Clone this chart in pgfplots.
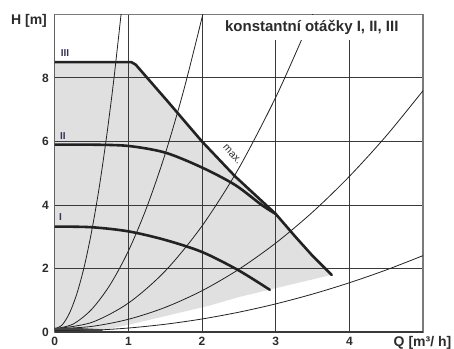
\documentclass[border=0pt]{standalone}
\usepackage{fontspec}
\setmainfont{Liberation Sans}
\usepackage{pgfplots}
\pgfplotsset{compat=1.18}
\definecolor{txt}{HTML}{2B2B2B}
\definecolor{gridc}{HTML}{3A3A3A}
\definecolor{framec}{HTML}{7A7A7A}
\definecolor{curvec}{HTML}{222222}
\definecolor{fillc}{HTML}{E0E0E0}
\definecolor{labc}{HTML}{3B2F55}
\begin{document}
\begin{tikzpicture}
\begin{axis}[
  set layers=standard,
  scale only axis,
  width=368.3pt, height=317.5pt,
  xmin=0, xmax=5, ymin=0, ymax=10,
  xtick={0,1,2,3,4}, ytick={0,2,4,6,8},
  grid=major,
  major grid style={color=gridc, line width=1pt},
  axis line style={color=framec, line width=1.5pt},
  major tick length=0pt,
  tick label style={font=\bfseries\fontsize{12}{12}\selectfont, text=txt},
  /pgf/number format/assume math mode=true,
  yticklabel style={xshift=-2.4pt},
  xticklabel style={yshift=-1.7pt},
]
% shaded working area
\addplot[on layer=axis background, fill=fillc, draw=none] coordinates {
  (0,0) (0,8.5) (1.04,8.5) (1.1,8.42) (1.52,7.3) (2.0,6.0) (2.45,4.9) (3.0,3.72) (3.26,3.02) (3.5,2.4) (3.76,1.8)
  (3.0,1.38) (2.5,1.1) (2.1,0.83) (1.5,0.5) (0.99,0.22) (0.65,0.06) (0,0.04)
} -- cycle;
% left and bottom dark edges
\draw[gridc, line width=1.2pt] (axis cs:0,0) -- (axis cs:0,10);
\draw[gridc, line width=1.2pt] (axis cs:0,0) -- (axis cs:5,0);
% system curves
\addplot[curvec, line width=0.8pt, smooth] coordinates {
  (0,0.1) (0.1,0.22) (0.2,0.59) (0.3,1.2) (0.4,2.05) (0.5,3.15) (0.6,4.49) (0.7,6.08) (0.8,7.9) (0.9,9.98) (0.92,10.33)};
\addplot[curvec, line width=0.8pt, smooth] coordinates {
  (0,0.1) (0.25,0.25) (0.5,0.71) (0.75,1.48) (1,2.55) (1.25,3.93) (1.5,5.61) (1.75,7.6) (2,9.9) (2.05,10.4)};
\addplot[curvec, line width=0.8pt, smooth] coordinates {
  (0,0.1) (0.5,0.3) (1,0.91) (1.5,1.92) (2,3.34) (2.5,5.16) (3,7.39) (3.4,9.46) (3.52,10.1)};
\addplot[curvec, line width=0.8pt, smooth] coordinates {
  (0,0.1) (0.5,0.175) (1,0.4) (1.5,0.775) (2,1.3) (2.5,1.975) (3,2.8) (3.5,3.775) (4,4.9) (4.5,6.175) (5,7.6)};
\addplot[curvec, line width=0.8pt, smooth] coordinates {
  (0,0.05) (0.5,0.054) (1,0.125) (1.5,0.244) (2,0.41) (2.5,0.624) (3,0.885) (3.5,1.194) (4,1.55) (4.5,1.954) (5,2.405)};
% blob near origin
\addplot[curvec!85, line width=2.4pt] coordinates {(0,0.1) (0.3,0.09) (0.65,0.05)};
% pump curves
\addplot[curvec, line width=2.6pt, line join=round, line cap=round] coordinates {
  (0,8.5) (1.04,8.5) (1.1,8.42) (1.52,7.3) (2.0,6.0) (2.45,4.9) (3.0,3.72) (3.26,3.02) (3.5,2.4) (3.76,1.8)};
\addplot[curvec, line width=2.6pt, smooth, line cap=round] coordinates {
  (0,5.9) (0.5,5.9) (1,5.86) (1.5,5.65) (2,5.18) (2.45,4.63) (2.81,4.0) (3.0,3.72)};
\addplot[curvec, line width=2.6pt, smooth, line cap=round] coordinates {
  (0,3.32) (0.5,3.3) (1,3.17) (1.5,2.9) (2.0,2.52) (2.49,1.95) (2.92,1.33)};
% title box
\fill[white] (axis cs:2.025,9.2) rectangle (axis cs:4.985,9.97);
\node[anchor=base, font=\bfseries\fontsize{15}{15}\selectfont, text=txt] at (axis cs:3.49,9.46) {konstantní otáčky I, II, III};
% curve labels
\node[font=\bfseries\fontsize{10}{10}\selectfont, text=labc] at (axis cs:0.14,8.79) {III};
\node[font=\bfseries\fontsize{10}{10}\selectfont, text=labc] at (axis cs:0.11,6.17) {II};
\node[font=\bfseries\fontsize{10}{10}\selectfont, text=labc] at (axis cs:0.08,3.63) {I};
\node[rotate=-48, inner sep=0pt, font=\fontsize{10.5}{10.5}\selectfont, text=txt] at (axis cs:2.41,5.6) {max.};
\end{axis}
\node[anchor=base, font=\bfseries\fontsize{14}{14}\selectfont, text=txt] at (-25.7pt,307pt) {H [m]};
\node[anchor=base, font=\bfseries\fontsize{14}{14}\selectfont, text=txt] at (367.8pt,-14.5pt) {Q [m³/ h]};
\pgfresetboundingbox
\path[use as bounding box] (-54.7pt,-16pt) rectangle (399.3pt,332pt);
\end{tikzpicture}
\end{document}
